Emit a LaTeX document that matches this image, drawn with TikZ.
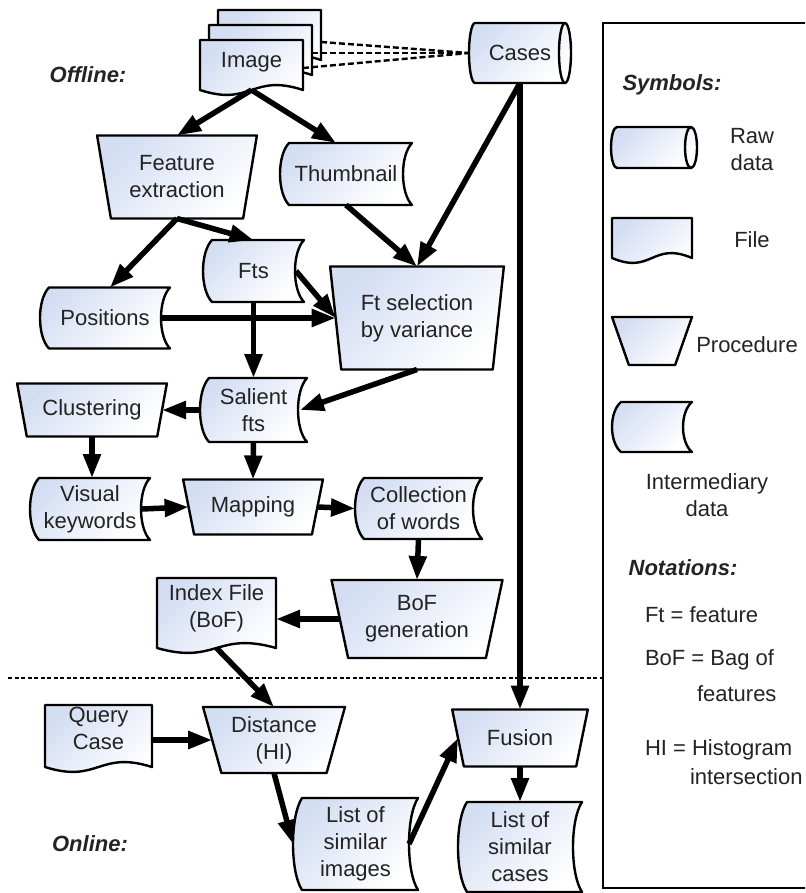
\documentclass[tikz,border=0pt]{standalone}
\usepackage{fontspec}
\setmainfont{Liberation Sans}
\usetikzlibrary{shapes.geometric,arrows.meta,calc}
\definecolor{boxblue}{RGB}{212,222,243}
\definecolor{txt}{RGB}{35,35,35}
\newcommand\up[2]{\raisebox{#1pt}[\height][\depth]{\begin{tabular}{@{}c@{}}#2\end{tabular}}}
\tikzset{
  boxfill/.style={draw=black, line width=2.4pt, line join=round, top color=boxblue, bottom color=white, shading angle=45},
  plain/.style={rectangle, draw=none, inner sep=0pt, outer sep=0pt, text=txt},
  proc/.style={trapezium, trapezium stretches=true, draw=black, line width=2.4pt, line join=round,
    top color=boxblue, bottom color=white, shading angle=45, inner xsep=2pt, inner ysep=2pt,
    outer sep=0pt, align=center, text=txt},
  arr/.style={line width=5.5pt, -{Triangle[length=24pt,width=17pt]}},
  dashln/.style={line width=2.4pt, dash pattern=on 6pt off 3pt},
  sepline/.style={line width=2.8pt, dash pattern=on 4pt off 2.5pt},
  lbl/.style={plain, font=\fontsize{22}{27}\selectfont\bfseries\itshape}
}
% document shape: name, cx, cy, w, h, raise, text
\newcommand\Doc[7]{%
  \path[boxfill] (#2-#4/2,#3-#5/2) -- (#2+#4/2,#3-#5/2) -- (#2+#4/2,#3+#5/2)
     .. controls (#2,#3+#5/2-17) and (#2,#3+#5/2+17) .. (#2-#4/2,#3+#5/2) -- cycle;
  \node[plain, minimum width=#4pt, minimum height=#5pt] (#1) at (#2,#3) {\up{#6}{#7}};
}
% intermediary data shape: name, cx, cy, w, h, text
\newcommand\Inter[6]{%
  \path[boxfill] (#2-#4/2+9,#3-#5/2) -- (#2+#4/2,#3-#5/2)
     .. controls (#2+#4/2-12,#3-#5/2+0.2*#5) and (#2+#4/2-12,#3+#5/2-0.2*#5) .. (#2+#4/2,#3+#5/2)
     -- (#2-#4/2+9,#3+#5/2)
     .. controls (#2-#4/2-3,#3+#5/2-0.2*#5) and (#2-#4/2-3,#3-#5/2+0.2*#5) .. (#2-#4/2+9,#3-#5/2) -- cycle;
  \node[plain, minimum width=#4pt, minimum height=#5pt, align=center] (#1) at (#2,#3) {#6};
}
% cylinder (raw data): name, cx, cy, w, h, text
\newcommand\Cyl[6]{%
  \path[boxfill] (#2-#4/2+6,#3-#5/2) -- (#2+#4/2-6,#3-#5/2)
     arc[start angle=-90, end angle=90, x radius=6, y radius=#5/2]
     -- (#2-#4/2+6,#3+#5/2)
     arc[start angle=90, end angle=270, x radius=6, y radius=#5/2] -- cycle;
  \draw[line width=2.4pt] (#2+#4/2-6,#3-#5/2) arc[start angle=270, end angle=90, x radius=6, y radius=#5/2];
  \node[plain, minimum width=#4pt, minimum height=#5pt, align=center] (#1) at (#2,#3) {#6};
}
\begin{document}
\begin{tikzpicture}[x=1pt, y=-1pt, font=\fontsize{22}{27}\selectfont]
\useasboundingbox (0,0) rectangle (805,893);
\clip (0,0) rectangle (805,893);

% legend frame
\draw[line width=2.4pt] (603,23) rectangle (830,888);

% separator offline / online
\coordinate (sepL) at (8,678);
\coordinate (sepR) at (604,678);
\draw[sepline] (sepL) -- (sepR);

% image stack
\Doc{img3}{269.5}{35}{103}{50}{0}{}
\Doc{img2}{260.5}{50}{103}{50}{0}{}
\Doc{img1}{251.5}{65}{103}{50}{3}{Image}

\Cyl{cases}{520}{53}{102}{60}{Cases}

\node[proc, minimum width=160pt, minimum height=83pt, trapezium angle=102.6] (fe) at (177,177) {Feature\\extraction};
\Inter{thumb}{346}{174}{132}{62}{Thumbnail}
\Inter{fts}{253.5}{271}{101}{62}{Fts}
\Inter{pos}{105}{318}{130}{61}{Positions}
\node[proc, minimum width=174pt, minimum height=103pt, trapezium angle=99.4] (ftsel) at (417,318) {Ft selection\\by variance};
\Inter{sal}{253.5}{410}{107}{64}{Salient\\fts}
\node[proc, minimum width=150pt, minimum height=53pt, trapezium angle=107.3] (clus) at (92,410) {Clustering};
\Inter{vis}{90}{509}{120}{62}{Visual\\keywords}
\node[proc, minimum width=140pt, minimum height=55pt, trapezium angle=108.6] (map) at (253,507) {Mapping};
\Inter{coll}{418.5}{508.5}{127}{61}{Collection\\of words}
\node[proc, minimum width=171pt, minimum height=78pt, trapezium angle=104.4] (bof) at (417,619) {BoF\\generation};
\Doc{idx}{216.5}{613}{119}{70}{4}{Index File\\(BoF)}
\Doc{qry}{98.5}{736}{107}{62}{5}{Query\\Case}
\node[proc, minimum width=142pt, minimum height=66pt, trapezium angle=106.9] (dist) at (274,740) {Distance\\(HI)};
\node[proc, minimum width=136pt, minimum height=57pt, trapezium angle=109.8] (fus) at (520,738) {Fusion};
\Inter{limg}{355.5}{844}{125}{92}{List of\\similar\\images}
\Inter{lcas}{520}{847}{124}{90}{List of\\similar\\cases}

% labels
\node[lbl] (offline) at (88,75) {Offline:};
\node[lbl] (online) at (90,844) {Online:};

% legend
\node[lbl] (symbols) at (672,85) {Symbols:};
\Cyl{lraw}{654}{147.5}{86}{41}{}
\node[plain, align=center] (rawl) at (752,150) {Raw\\data};
\Doc{lfile}{652}{238}{80}{40}{0}{}
\node[plain] (filel) at (752,240) {File};
\node[proc, minimum width=80pt, minimum height=48pt, trapezium angle=110] (lproc) at (652,341) {};
\node[plain] (procl) at (747,345) {Procedure};
\Inter{lint}{652}{427}{80}{50}{}
\node[plain, align=center] (intl) at (707,495) {Intermediary\\data};
\node[lbl] (notat) at (683,568) {Notations:};
\node[plain, anchor=west] (n1) at (645,615) {Ft = feature};
\node[plain, anchor=west] (n2) at (645,660) {BoF = Bag of};
\node[plain, anchor=west] (n2b) at (697,694) {features};
\node[plain, anchor=west] (n3) at (645,750) {HI = Histogram};
\node[plain, anchor=west] (n3b) at (690,777) {intersection};

% dashed links image stack -> cases
\draw[dashln] ($(img3.east)+(0,7)$) -- (cases.west);
\draw[dashln] ($(img2.east)+(0,3)$) -- (cases.west);
\draw[dashln] ($(img1.east)+(0,3)$) -- (cases.west);

% arrows
\draw[arr] (img1.south) -- (fe.top side);
\draw[arr] (img1.south) -- ([xshift=-10pt]thumb.north);
\draw[arr] (fe.bottom side) -- ([xshift=5pt]pos.north);
\draw[arr] (fe.bottom side) -- (fts.north);
\draw[arr] (thumb.south) -- (ftsel.top side);
\draw[arr] (cases.south) -- (ftsel.top side);
\draw[arr] (cases.south) -- (fus.top side);
\draw[arr] ([xshift=-8pt]fts.east) -- (ftsel.left side);
\draw[arr] ([xshift=-8pt]pos.east) -- (ftsel.left side);
\draw[arr] (fts.south) -- (sal.north);
\draw[arr] (ftsel.bottom side) -- ([xshift=-7pt]sal.east);
\draw[arr] (sal.west) -- (clus.right side);
\draw[arr] (clus.bottom side) -- (clus.bottom side |- vis.north);
\draw[arr] (sal.south) -- (map.top side);
\draw[arr] ([xshift=-8pt]vis.east) -- (map.left side);
\draw[arr] (map.right side) -- (coll.west);
\draw[arr] (coll.south) -- (bof.top side);
\draw[arr] (bof.left side) -- (bof.left side -| idx.east);
\draw[arr] (idx.south) -- (dist.top side);
\draw[arr] (dist.left side -| qry.east) -- (dist.left side);
\draw[arr] (dist.bottom side) -- (limg.west);
\draw[arr] ([xshift=-9pt]limg.east) -- (fus.left side);
\draw[arr] (fus.bottom side) -- (lcas.north);
\end{tikzpicture}
\end{document}
